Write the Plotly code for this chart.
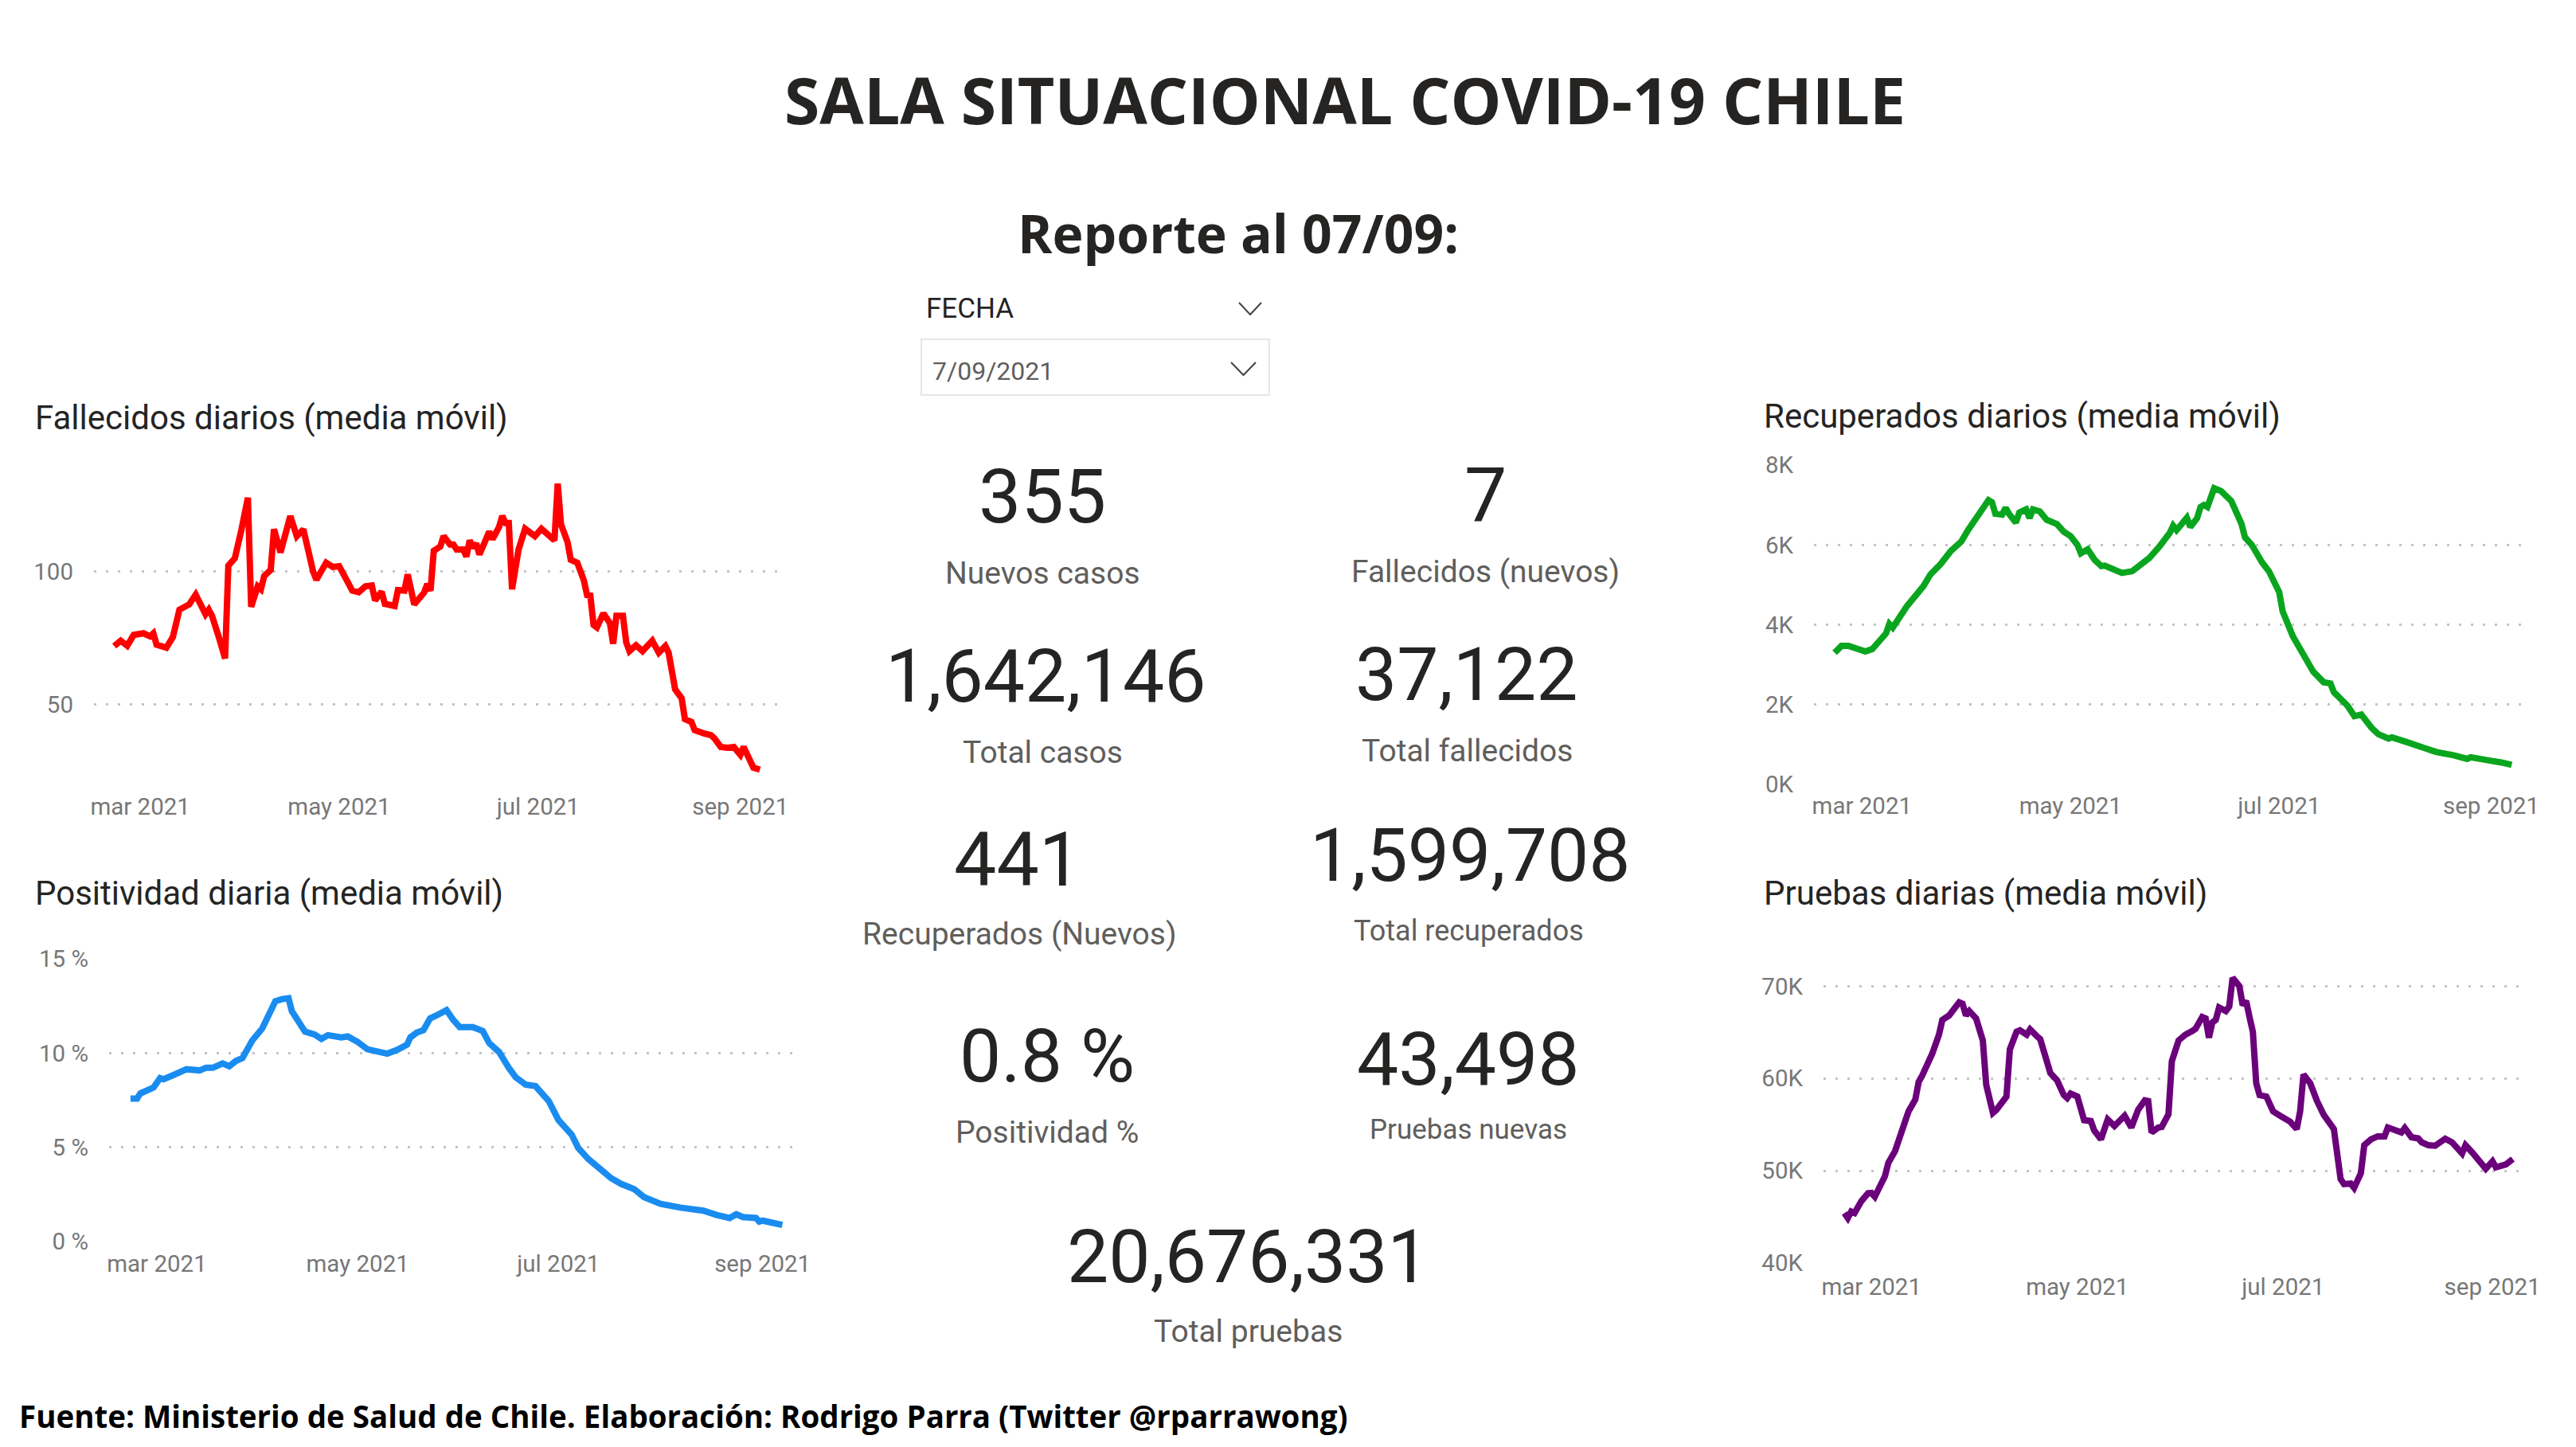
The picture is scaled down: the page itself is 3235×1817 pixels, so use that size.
import pandas as pd
import plotly.graph_objects as go

W, H = 3235, 1817
PAGE = 8  # browser body margin around the plot
START = pd.Timestamp("2021-02-21")

# values, keyed by days since START
fallecidos_dias = [0, 2, 4, 6, 9, 11, 12, 13, 16, 18, 20, 22, 23, 25, 27, 28, 29, 30, 32, 34, 35, 37, 39, 41, 42, 44, 45, 46, 48, 49, 51, 54, 56, 58, 61, 62, 65, 67, 69, 71, 73, 75, 77, 79, 80, 82, 83, 86, 87, 89, 90, 92, 95, 96, 97, 98, 100, 101, 103, 104, 105, 107, 108, 109, 110, 111, 112, 115, 116, 118, 119, 120, 121, 122, 124, 126, 128, 129, 131, 133, 135, 136, 137, 139, 140, 142, 144, 145, 146, 147, 148, 150, 152, 153, 154, 156, 157, 158, 160, 162, 165, 167, 169, 170, 171, 172, 174, 175, 177, 178, 181, 183, 184, 186, 188, 190, 192, 193, 196, 198]
fallecidos = [71.9, 73.9, 72, 76.1, 76.7, 75.6, 76.7, 72.4, 71.3, 75.3, 85.6, 87.2, 87.6, 91.3, 86.7, 83.9, 85.6, 83.3, 75.6, 67.2, 102.2, 105, 115.6, 127.8, 86.7, 94.4, 93.3, 98.3, 100.6, 115.9, 107.2, 120.9, 113.3, 115.9, 100, 96.9, 103.3, 101.7, 102, 96.9, 92.8, 92.2, 94.4, 94.7, 89.1, 92.4, 87.8, 87, 93, 92.8, 98.9, 87.6, 92, 95.3, 92.8, 107.8, 109.4, 113.3, 110.2, 110.2, 108.3, 108.3, 105.6, 111.7, 108.9, 110.6, 106.4, 115, 112.2, 116.7, 120.9, 118.3, 118.3, 93.3, 108.3, 116.1, 113.9, 113.3, 116.1, 113.9, 111.7, 133.1, 117.8, 111.1, 104.4, 103.3, 96.7, 91.1, 90.9, 79.8, 78.9, 84.2, 80.6, 72.8, 83.3, 83.3, 73.3, 70, 72.2, 70, 73.9, 69.4, 71.9, 69.4, 62.2, 55.6, 52.2, 44.4, 43.3, 40.2, 38.9, 38.3, 37.2, 33.9, 33.6, 33.9, 30.9, 33.9, 26.1, 25.3]

positividad_dias = [0, 2, 3, 7, 9, 10, 13, 15, 17, 21, 23, 25, 28, 30, 32, 34, 37, 40, 42, 44, 46, 48, 49, 51, 53, 56, 58, 60, 64, 66, 69, 72, 75, 78, 81, 84, 85, 87, 89, 91, 93, 96, 98, 100, 104, 107, 109, 112, 115, 117, 120, 123, 127, 130, 134, 136, 139, 143, 146, 149, 153, 156, 161, 167, 171, 174, 178, 182, 184, 186, 190, 191, 192, 195, 198]
positividad = [7.58, 7.58, 7.86, 8.17, 8.67, 8.61, 8.83, 9.03, 9.14, 9.08, 9.22, 9.22, 9.45, 9.30, 9.58, 9.73, 10.67, 11.30, 12.08, 12.75, 12.86, 12.91, 12.23, 11.61, 11.14, 10.98, 10.75, 10.95, 10.83, 10.88, 10.59, 10.2, 10.08, 9.97, 10.17, 10.44, 10.83, 11.09, 11.22, 11.84, 12.0, 12.28, 11.77, 11.38, 11.38, 11.17, 10.52, 10.05, 9.19, 8.72, 8.33, 8.25, 7.47, 6.45, 5.67, 4.97, 4.39, 3.80, 3.36, 3.06, 2.78, 2.36, 2.0, 1.80, 1.73, 1.64, 1.41, 1.25, 1.45, 1.30, 1.25, 1.06, 1.11, 1.02, 0.88]

recuperados_dias = [0, 2, 4, 6, 8, 9, 11, 15, 16, 17, 21, 24, 26, 28, 31, 34, 37, 39, 42, 45, 46, 47, 49, 50, 51, 53, 54, 56, 57, 58, 60, 62, 65, 67, 69, 71, 72, 74, 76, 78, 79, 82, 84, 87, 90, 92, 95, 98, 99, 100, 103, 104, 106, 107, 108, 109, 111, 113, 116, 118, 119, 120, 122, 125, 127, 130, 131, 134, 137, 140, 143, 145, 146, 150, 152, 154, 157, 159, 162, 163, 167, 171, 176, 181, 185, 186, 189, 192, 195, 198]
recuperados = [3300, 3470, 3470, 3410, 3380, 3330, 3390, 3780, 4020, 3930, 4450, 4780, 4970, 5260, 5520, 5850, 6080, 6370, 6780, 7120, 7070, 6780, 6760, 6930, 6780, 6560, 6810, 6890, 6670, 6890, 6840, 6630, 6520, 6330, 6220, 6000, 5790, 5890, 5630, 5470, 5480, 5370, 5300, 5340, 5520, 5670, 5960, 6300, 6480, 6370, 6680, 6450, 6670, 6950, 7000, 6950, 7420, 7350, 7100, 6740, 6520, 6190, 6000, 5560, 5340, 4820, 4340, 3710, 3230, 2820, 2560, 2530, 2310, 1970, 1710, 1750, 1420, 1260, 1150, 1180, 1070, 940, 810, 730, 640, 680, 620, 590, 550, 490]

pruebas_dias = [0, 1, 2, 3, 5, 7, 8, 9, 12, 13, 15, 17, 18, 19, 21, 22, 23, 26, 28, 29, 31, 33, 34, 35, 36, 37, 39, 41, 42, 44, 45, 48, 49, 51, 52, 54, 55, 57, 58, 61, 63, 65, 66, 67, 69, 71, 73, 74, 76, 78, 80, 83, 85, 87, 89, 90, 91, 93, 94, 96, 97, 99, 101, 103, 104, 106, 107, 108, 109, 110, 111, 113, 114, 115, 117, 118, 119, 120, 121, 122, 123, 125, 127, 129, 131, 132, 134, 135, 136, 138, 140, 142, 145, 146, 147, 148, 150, 151, 153, 154, 156, 158, 160, 161, 165, 166, 168, 170, 171, 173, 175, 178, 180, 183, 184, 186, 190, 192, 193, 196, 198]
pruebas = [45420, 44880, 45580, 45420, 46700, 47560, 47590, 47180, 49410, 50850, 52130, 54040, 55000, 56430, 57710, 59630, 60270, 62660, 64730, 66330, 66810, 67670, 68240, 68080, 66810, 67290, 66490, 64100, 59310, 56270, 56590, 58030, 63140, 65050, 65210, 64730, 65310, 64570, 64250, 60580, 59790, 58190, 57870, 58350, 58030, 55480, 55380, 54360, 53400, 55540, 54840, 55960, 54680, 56590, 57620, 57550, 54140, 54680, 54740, 56120, 61860, 64100, 64730, 65120, 65370, 66650, 66490, 64410, 66070, 66330, 67670, 67290, 67770, 70890, 70000, 67930, 68400, 66650, 65050, 59470, 58190, 58030, 56430, 55960, 55480, 55320, 54520, 56430, 60420, 59470, 57550, 56050, 54520, 51970, 49090, 48550, 48610, 48140, 49730, 52760, 53400, 53720, 53720, 54680, 54140, 54620, 53630, 53500, 53080, 52760, 52700, 53470, 53080, 51870, 52760, 51970, 50210, 51010, 50370, 50690, 51260]

mes_ticks = ["2021-03-01", "2021-05-01", "2021-07-01", "2021-09-01"]
mes_labels = ["mar 2021", "may 2021", "jul 2021", "sep 2021"]

TEXT = "Roboto"
TITLE_FONT = "Open Sans"
DARK = "#252423"
GREY = "#605e5c"
TICK = "#777777"

FIG_W, FIG_H = W - 2 * PAGE, H - 2 * PAGE


def px_x(x):
    return (x - PAGE) / FIG_W


def px_y(y):
    return 1 - (y - PAGE) / FIG_H


def dates(days):
    return [START + pd.Timedelta(days=d) for d in days]


# panel: series, colour, y ticks, pixel box, axis ranges, label gap
panels = [
    dict(days=fallecidos_dias, y=fallecidos, color="#ff0000", yticks=[50, 100], ylabels=["50", "100"],
         box=(118, 983, 580, 984), xr=(-6.2, 205.0), yr=(20.06, 141.3), gap=8),
    dict(days=positividad_dias, y=positividad, color="#1a8cf0", yticks=[0, 5, 10, 15],
         ylabels=["0 %", "5 %", "10 %", "15 %"],
         box=(137, 999, 1204, 1559), xr=(-6.5, 202.0), yr=(0, 15), gap=7),
    dict(days=recuperados_dias, y=recuperados, color="#0aa51e", yticks=[0, 2000, 4000, 6000, 8000],
         ylabels=["0K", "2K", "4K", "6K", "8K"],
         box=(2278, 3171, 584, 985), xr=(-6.05, 201.9), yr=(0, 8000), gap=6),
    dict(days=pruebas_dias, y=pruebas, color="#6b007b", yticks=[40000, 50000, 60000, 70000],
         ylabels=["40K", "50K", "60K", "70K"],
         box=(2290, 3170, 1215, 1586), xr=(-6.2, 201.4), yr=(40000, 72000), gap=9),
]

fig = go.Figure()
axes = {}
for i, p in enumerate(panels):
    n = i + 1
    sfx = "" if n == 1 else str(n)
    fig.add_trace(go.Scatter(
        x=dates(p["days"]), y=p["y"], mode="lines", xaxis=f"x{sfx}", yaxis=f"y{sfx}",
        line=dict(color=p["color"], width=8, shape="linear"), showlegend=False, cliponaxis=False,
    ))
    x0, x1, y0, y1 = p["box"]
    axes[f"xaxis{sfx}"] = dict(
        domain=[px_x(x0), px_x(x1)], anchor=f"y{sfx}", type="date", automargin=False,
        range=[START + pd.Timedelta(days=p["xr"][0]), START + pd.Timedelta(days=p["xr"][1])],
        tickmode="array", tickvals=mes_ticks, ticktext=mes_labels, showgrid=False, showline=False,
        zeroline=False, ticks="", tickfont=dict(family=TEXT, size=29.5, color=TICK), ticklabelstandoff=p["gap"],
    )
    axes[f"yaxis{sfx}"] = dict(
        domain=[px_y(y1), px_y(y0)], anchor=f"x{sfx}", range=list(p["yr"]), automargin=False,
        tickmode="array", tickvals=p["yticks"], ticktext=p["ylabels"], showline=False, zeroline=False,
        showgrid=True, gridcolor="#c4c4c4", gridwidth=2.5, griddash="2.5px,12.5px", ticks="",
        tickfont=dict(family=TEXT, size=29.5, color=TICK), ticklabelstandoff=25,
    )

texts = [
    ("SALA SITUACIONAL COVID-19 CHILE", 1689, 125, 80.5, DARK, "center", TITLE_FONT, True),
    ("Reporte al 07/09:", 1555, 292, 66, DARK, "center", TITLE_FONT, True),
    ("FECHA", 1161, 387, 35, DARK, "left", TEXT, False),
    ("7/09/2021", 1169, 466, 32, GREY, "left", TEXT, False),
    ("Fallecidos diarios (media móvil)", 42, 525, 42, DARK, "left", TEXT, False),
    ("Positividad diaria (media móvil)", 42, 1121, 42, DARK, "left", TEXT, False),
    ("Recuperados diarios (media móvil)", 2213, 523, 42, DARK, "left", TEXT, False),
    ("Pruebas diarias (media móvil)", 2213, 1121, 42, DARK, "left", TEXT, False),
    ("355", 1309, 624, 95, DARK, "center", TEXT, False),
    ("Nuevos casos", 1309, 720, 39, GREY, "center", TEXT, False),
    ("7", 1865, 622, 95, DARK, "center", TEXT, False),
    ("Fallecidos (nuevos)", 1865, 718, 39, GREY, "center", TEXT, False),
    ("1,642,146", 1313, 849, 93, DARK, "center", TEXT, False),
    ("Total casos", 1309, 945, 39, GREY, "center", TEXT, False),
    ("37,122", 1842, 847, 93, DARK, "center", TEXT, False),
    ("Total fallecidos", 1842, 943, 39, GREY, "center", TEXT, False),
    ("441", 1278, 1079, 95, DARK, "center", TEXT, False),
    ("Recuperados (Nuevos)", 1280, 1173, 39, GREY, "center", TEXT, False),
    ("1,599,708", 1846, 1074, 93, DARK, "center", TEXT, False),
    ("Total recuperados", 1844, 1169, 36, GREY, "center", TEXT, False),
    ("0.8 %", 1315, 1326, 93, DARK, "center", TEXT, False),
    ("Positividad %", 1315, 1422, 39, GREY, "center", TEXT, False),
    ("43,498", 1844, 1330, 93, DARK, "center", TEXT, False),
    ("Pruebas nuevas", 1844, 1418, 35, GREY, "center", TEXT, False),
    ("20,676,331", 1567, 1578, 93, DARK, "center", TEXT, False),
    ("Total pruebas", 1567, 1672, 39, GREY, "center", TEXT, False),
    ("Fuente: Ministerio de Salud de Chile. Elaboración: Rodrigo Parra (Twitter @rparrawong)", 22, 1778, 38.5, "#000000", "left", TITLE_FONT, True),
]
annotations = [
    dict(text=f"<b>{t}</b>" if bold else t, x=px_x(x), y=px_y(y), xref="paper", yref="paper",
         xanchor=anchor, yanchor="middle", showarrow=False, font=dict(family=family, size=size, color=color))
    for t, x, y, size, color, anchor, family, bold in texts
]


def chevron(x0, x1, y0, y1):
    xm = (x0 + x1) / 2
    return dict(type="path", xref="paper", yref="paper", line=dict(color="#444444", width=2),
                path=f"M {px_x(x0)} {px_y(y0)} L {px_x(xm)} {px_y(y1)} L {px_x(x1)} {px_y(y0)}")


shapes = [
    dict(type="rect", xref="paper", yref="paper", x0=px_x(1157), x1=px_x(1594), y0=px_y(496), y1=px_y(426),
         line=dict(color="#e6e6e6", width=2)),
    chevron(1556, 1584, 380, 395),
    chevron(1546, 1577, 455, 471),
]

fig.update_layout(
    width=FIG_W, height=FIG_H, margin=dict(l=0, r=0, t=0, b=0), autosize=False,
    paper_bgcolor="white", plot_bgcolor="white",
    annotations=annotations, shapes=shapes, **axes,
)
fig.write_html("out.html")
